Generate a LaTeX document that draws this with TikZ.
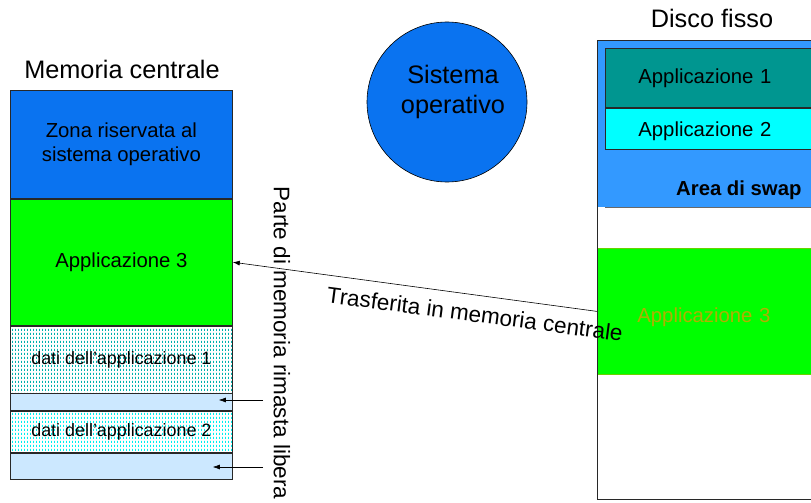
\documentclass[tikz,border=0pt]{standalone}
\usepackage{fontspec}
\setmainfont{Liberation Sans}
\usetikzlibrary{calc,patterns.meta,arrows.meta}
\definecolor{blusys}{RGB}{10,115,240}
\definecolor{verde}{RGB}{0,255,0}
\definecolor{libero}{RGB}{204,232,255}
\definecolor{bluswap}{RGB}{51,153,255}
\definecolor{petrolio}{RGB}{0,150,144}
\definecolor{ciano}{RGB}{0,255,255}
\definecolor{oliva}{RGB}{176,176,0}
\definecolor{bordo}{RGB}{40,40,40}
\newcommand\titolo{\fontsize{25.3}{30}\selectfont}
\newcommand\testo{\fontsize{20.3}{24.5}\selectfont}
\newcommand\medio{\fontsize{22.5}{27}\selectfont}
\newcommand\piccolo{\fontsize{17.9}{22}\selectfont}
\tikzdeclarepattern{
	name=trattini,
	type=uncolored,
	bounding box={(0pt,0pt) and (3pt,4pt)},
	tile size={(3pt,4pt)},
	code={\fill (0pt,0pt) rectangle (1pt,2.6pt);}
}
\tikzset{
	blocco/.style={draw=bordo, line width=0.8pt, minimum width=222pt, inner sep=0pt, anchor=north west},
	riga/.style={draw=bordo, line width=0.8pt, anchor=north west, align=left, inner ysep=0pt, text width=200pt},
	puntini/.style={pattern=trattini, pattern color=#1},
	freccia/.style={line width=0.6pt, -{Latex[length=7pt,width=5pt]}}
}

\begin{document}
\begin{tikzpicture}[x=1pt,y=1pt]
			%%%%% START %%%%%
			\useasboundingbox (0,0) rectangle (811,-503);
			
			% memoria centrale
			\node[font=\titolo, anchor=base] (titmem) at (122,-78) {Memoria centrale};
			\node[blocco, fill=blusys, minimum height=108pt, align=center, font=\testo] (zona) at (10,-90) {Zona riservata al\\sistema operativo};
			\node[blocco, fill=verde, minimum height=126pt, font=\testo] (app3) at (zona.south west) {Applicazione 3};
			\node[blocco, puntini=petrolio!75!ciano, minimum height=67pt, font=\piccolo] (dati1) at (app3.south west) {dati dell'applicazione 1};
			\node[blocco, fill=libero, minimum height=17pt] (lib1) at (dati1.south west) {};
			\node[blocco, puntini=ciano!85!petrolio, minimum height=41pt, font=\piccolo] (dati2) at (lib1.south west) {dati dell'applicazione 2};
			\node[blocco, fill=libero, minimum height=26pt] (lib2) at (dati2.south west) {};
			
			% sistema operativo
			\node[circle, draw=black, line width=0.6pt, fill=blusys, minimum size=160pt, inner sep=0pt] (so) at (447,-102) {};
			\node[font=\titolo, align=center, inner sep=0pt, text depth=5pt] (sotxt) at (453,-91.5) {Sistema\\[0pt]operativo};
			
			% disco fisso
			\node[font=\titolo, anchor=base] (titdisco) at (712,-28) {Disco fisso};
			\node[anchor=north west, fill=bluswap, minimum width=240pt, minimum height=167pt, inner sep=0pt] (swap) at (597,-40) {};
			\node[riga, fill=petrolio, minimum height=59pt, inner xsep=33pt, font=\testo] (disco1) at (605,-48) {Applicazione 1};
			\node[riga, fill=ciano, minimum height=41pt, inner xsep=33pt, text height=19pt, text depth=4pt, font=\testo] (disco2) at (disco1.south west) {Applicazione 2};
			\draw[bordo!70, line width=0.8pt] ([xshift=8pt]swap.south west) -- (swap.south east);
			\node[font=\testo\bfseries, anchor=base east] (areaswap) at (805,-195) {Area di swap};
			\node[riga, draw=oliva!60!verde, fill=verde, minimum height=126pt, inner xsep=40pt, text height=26pt, text depth=4pt, text=oliva, font=\testo] (disco3) at (597,-248) {Applicazione 3};
			\node[draw=bordo, line width=0.8pt, anchor=north west, minimum width=240pt, minimum height=459pt, inner sep=0pt] (disco) at (597,-40) {};
			
			% frecce e scritte
			\draw[freccia] (disco3.west) -- (app3.east);
			\node[font=\medio, rotate=-7.5, inner sep=0pt] (trasf) at (475,-314) {Trasferita in memoria centrale};
			\node[font=\medio, rotate=-90, inner sep=0pt] (parte) at (282,-343) {Parte di memoria rimasta libera};
			
			\coordinate (c1) at (263,-400);
			\coordinate (c2) at (263,-467);
			\draw[freccia] (c1) -- ([xshift=-14pt]c1 -| lib1.east);
			\draw[freccia] (c2) -- ([xshift=-20pt]c2 -| lib2.east);
			
			%%%%% END %%%%%
		\end{tikzpicture}
\end{document}
